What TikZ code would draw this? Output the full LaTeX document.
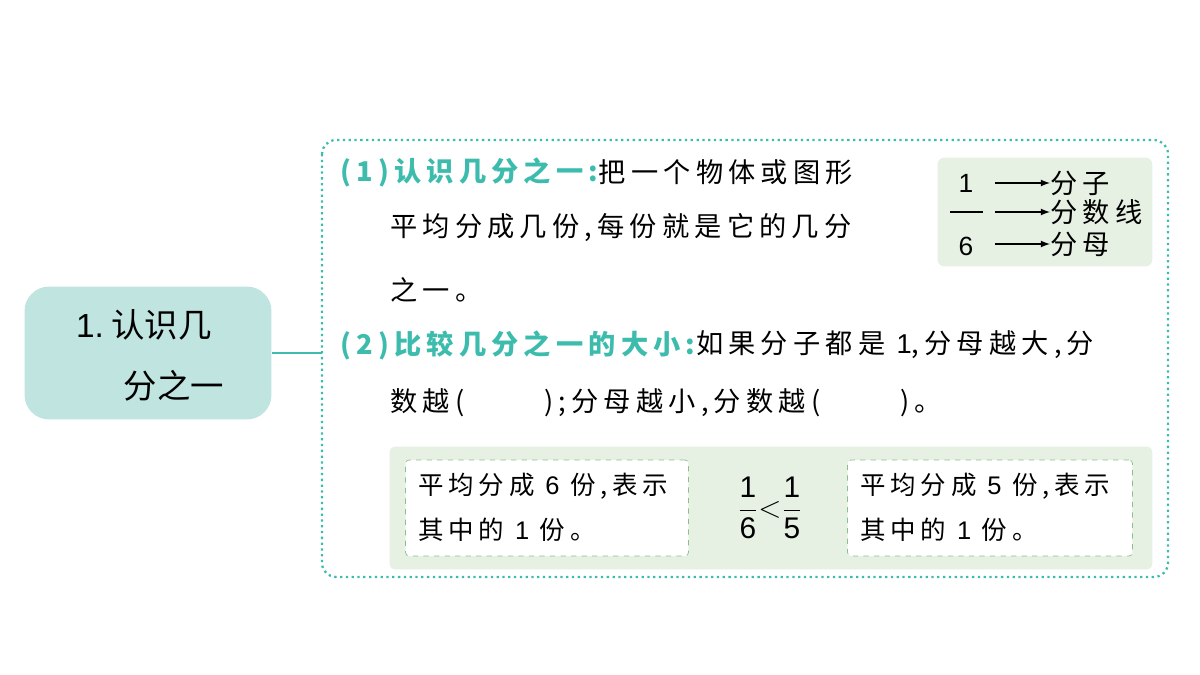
\documentclass[tikz,border=0pt]{standalone}
\usepackage{fontspec}
\newfontfamily\cjk[LetterSpace=19]{Noto Sans CJK SC}
\newfontfamily\cjkt{Noto Sans CJK SC}
\newfontfamily\digits{Liberation Sans}
\definecolor{teal1}{HTML}{3DBCAE}
\definecolor{mint}{HTML}{C0E4DF}
\definecolor{pale}{HTML}{E6F1E4}
\definecolor{dgreen}{HTML}{8DBF8D}
\tikzset{
  txt/.style={anchor=west,inner sep=0pt,font=\cjk\fontsize{15.5}{18}\selectfont},
  head/.style={txt,text=teal1,font=\cjk\bfseries\fontsize{15.5}{18}\selectfont},
  cardtxt/.style={txt,font=\cjk\fontsize{14.5}{17}\selectfont},
  card/.style={draw=dgreen,dashed,fill=white,rounded corners=2pt},
  num/.style={font=\digits\fontsize{15}{18}\selectfont}
}
\begin{document}
\begin{tikzpicture}[x=0.02cm,y=-0.02cm]
\useasboundingbox (0,0) rectangle (1200,675);
% left topic
\node[fill=mint,rounded corners=14pt,minimum width=4.94cm,minimum height=2.66cm] (topic) at (148,353) {};
\node[inner sep=0pt,font=\cjkt\fontsize{19}{22}\selectfont,align=left] (tname) at (150,355)
  {{\digits 1.}~认识几\\[0.45cm]\hspace{0.95cm}分之一};
\coordinate (hook) at (322,353);
\draw[teal1,line width=1.2pt] (topic.east) -- (hook);
% dotted frame
\draw[teal1,dotted,line width=1.3pt,rounded corners=8pt] (322,140) rectangle (1168,577);
% fraction box
\node[fill=pale,rounded corners=4pt,minimum width=4.3cm,minimum height=2.18cm] (fbox) at (1045,212) {};
\node[num] (numer) at (966,183) {1};
\node[num] (denom) at (966,246) {6};
\draw[line width=0.8pt] (950,212) -- (983,212);
\node[txt] (zi) at (1050,183) {分子};
\node[txt] (xian) at (1050,212) {分数线};
\node[txt] (mu) at (1050,244) {分母};
\draw[-latex,line width=0.8pt] (995,183) -- (zi.west);
\draw[-latex,line width=0.8pt] (995,212) -- (xian.west);
\draw[-latex,line width=0.8pt] (995,244) -- (mu.west);
% part (1)
\node[head] (h1) at (340,172) {(1)认识几分之一:};
\node[txt] (l1) at (h1.east) {把一个物体或图形};
\node[txt] (l2) at (390,228) {平均分成几份,每份就是它的几分};
\node[txt] (l3) at (390,290) {之一。};
% part (2)
\node[head] (h2) at (340,345) {(2)比较几分之一的大小:};
\node[txt] (l4) at (h2.east) {如果分子都是 {\digits 1},分母越大,分};
\node[txt] (l5) at (390,403) {数越(\hspace{1.6cm});分母越小,分数越(\hspace{1.6cm})。};
% example
\node[fill=pale,rounded corners=3pt,minimum width=15.26cm,minimum height=2.46cm] (ex) at (771,508) {};
\node[card,minimum width=5.66cm,minimum height=1.92cm] (c1) at (547,508) {};
\node[card,minimum width=5.7cm,minimum height=1.92cm] (c2) at (990,508) {};
\node[cardtxt] (t1) at (418,486) {平均分成 {\digits 6} 份,表示};
\node[cardtxt] (t2) at (418,530) {其中的 {\digits 1} 份。};
\node[cardtxt] (t3) at (860,486) {平均分成 {\digits 5} 份,表示};
\node[cardtxt] (t4) at (860,530) {其中的 {\digits 1} 份。};
\node[inner sep=0pt,font=\fontsize{17}{20}\selectfont] (cmp) at (770,508)
  {$\displaystyle\frac{\hbox{\digits 1}}{\hbox{\digits 6}}{<}\frac{\hbox{\digits 1}}{\hbox{\digits 5}}$};
\end{tikzpicture}
\end{document}
